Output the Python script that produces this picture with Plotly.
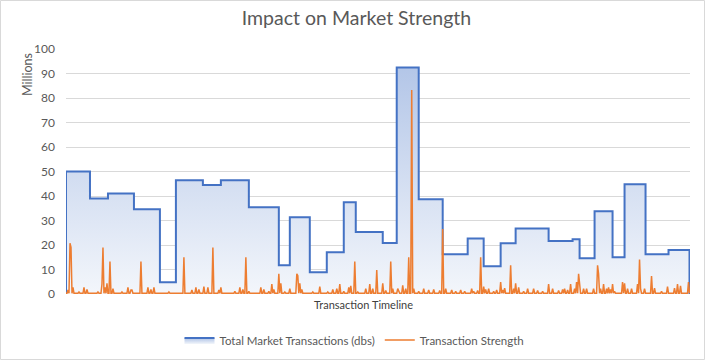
import plotly.graph_objects as go

# ---- data -------------------------------------------------------------
# Timeline is expressed as transaction index 0..624
step_x = [0, 24, 42, 68, 94, 110, 137, 155, 183, 213, 224, 244, 261, 278, 290,
          317, 331, 353, 377, 402, 418, 435, 450, 483, 507, 514, 529, 547, 559,
          580, 603, 624]
step_val = [50, 39, 41, 34.6, 4.8, 46.4, 44.5, 46.4, 35.4, 11.7, 31.3, 8.9, 17,
            37.4, 25.3, 20.8, 92.5, 38.7, 16.2, 22.7, 11.3, 20.7, 26.7, 21.6,
            22.3, 14.6, 33.8, 15, 44.8, 16.2, 18, 18]

spike_x = [2, 4, 5, 7, 13, 18, 21, 32, 36, 37, 39, 41, 44, 47, 56, 62, 65, 66,
           75, 82, 85, 88, 103, 118, 126, 130, 133, 138, 142, 147, 153, 155,
           169, 174, 177, 180, 183, 195, 198, 203, 206, 208, 213, 215, 219, 224,
           231, 232, 234, 236, 247, 254, 262, 267, 271, 274, 278, 283, 285, 289,
           292, 300, 304, 307, 311, 317, 320, 325, 327, 332, 333, 337, 340, 343,
           346, 348, 353, 358, 363, 368, 374, 377, 380, 386, 390, 395, 399, 406,
           408, 412, 415, 418, 420, 423, 428, 431, 435, 437, 439, 445, 448, 450,
           453, 458, 462, 468, 472, 477, 483, 487, 493, 497, 499, 502, 505, 509,
           511, 513, 514, 518, 521, 528, 532, 533, 535, 538, 541, 543, 545, 547,
           549, 557, 559, 562, 566, 572, 574, 575, 579, 586, 589, 596, 602, 609,
           612, 615, 623]
spike_val = [1.6, 20.7, 19, 2.7, 0.8, 2.7, 1.9, 0.8, 4, 19, 2.7, 4.4, 13.3, 2.2,
             0.8, 2.7, 1.6, 1.6, 13.3, 2.7, 1.9, 2.7, 0.8, 15, 1.6, 2.7, 1.9, 3,
             2.7, 19, 1.6, 2.7, 1.1, 2.7, 1.9, 15, 1.1, 2.7, 1.9, 1.1, 4, 1.9,
             8.2, 4.4, 0.8, 2.2, 8.2, 7.5, 4.4, 1.9, 0.8, 3, 0.8, 1.9, 2.2, 4,
             1.1, 2.7, 3.3, 13.3, 0.8, 2.2, 4, 2.2, 9.8, 4.4, 1.4, 13.3, 2.2,
             2.2, 1.4, 3.5, 2.2, 15, 83.3, 2.2, 1.1, 2.2, 1.6, 1.9, 1.4, 26.5,
             2.2, 1.6, 1.1, 1.6, 1.1, 2.2, 1.1, 1.4, 15, 3, 1.9, 2.2, 1.1, 1.6,
             4.9, 1.6, 2.4, 11.7, 2.2, 4.4, 2.7, 1.1, 2.2, 2.2, 1.4, 1.1, 4, 2.2,
             1.4, 1.9, 2.2, 1.6, 4, 2.2, 4.9, 8.2, 2.7, 2.2, 2.2, 2.2, 11.7, 8.2,
             2.2, 4, 2.2, 2.7, 1.9, 4, 1.1, 4.9, 4.4, 2.2, 2.2, 4, 14.1, 2.2, 2.2,
             7.3, 2.4, 1.1, 3, 2.4, 4, 3.3, 4.9]
baseline_val = 0.3
n_points = 625

y_ticks = list(range(0, 101, 10))

# ---- build series ----------------------------------------------------
spikes = dict(zip(spike_x, spike_val))
strength_x = list(range(n_points))
strength_y = [spikes.get(i, baseline_val) for i in strength_x]

area_x = [step_x[0]] + step_x + [step_x[-1]]
area_y = [0] + step_val + [0]

fig = go.Figure()
fig.add_trace(go.Scatter(
    x=area_x, y=area_y, mode="lines", line_shape="hv",
    line=dict(color="#4472c4", width=2),
    fill="tozeroy",
    fillgradient=dict(type="vertical", start=0, stop=100,
                      colorscale=[[0, "#f3f6fb"], [1, "#aec2e6"]]),
    name="Total Market Transactions (dbs)",
))
fig.add_trace(go.Scatter(
    x=strength_x, y=strength_y, mode="lines",
    line=dict(color="#ed7d31", width=1.5),
    name="Transaction Strength",
))

grey = "#595959"
fig.update_layout(
    width=705, height=360,
    margin=dict(l=66, r=15, t=49, b=66, autoexpand=False),
    paper_bgcolor="white", plot_bgcolor="white",
    font=dict(family="Lato", color=grey, size=12),
    title=dict(text="Impact on Market Strength", x=0.4655, xref="paper",
               xanchor="center", y=1 - 18 / 360, yanchor="middle",
               font=dict(size=19.5, color=grey, family="Lato")),
    xaxis=dict(range=[0, 624.5], showticklabels=False, showgrid=False,
               zeroline=False, showline=False, ticks="", automargin=False),
    yaxis=dict(range=[0, 100], tickvals=y_ticks, showgrid=True,
               gridcolor="#d9d9d9", gridwidth=1, zeroline=False,
               showline=False, ticks="", ticklabelstandoff=10,
               automargin=False, tickfont=dict(size=12, color=grey)),
    yaxis2=dict(range=[0, 6], overlaying="y", side="right", dtick=1,
                showgrid=False, zeroline=False, showticklabels=False,
                automargin=False,
                ticks="outside", ticklen=2, tickcolor="#cfcfcf"),
    showlegend=True,
    legend=dict(orientation="h", x=(354.5 - 66) / 624, xanchor="center",
                y=(294 - 340) / 245, yanchor="middle",
                font=dict(size=11.5, color=grey), itemwidth=30,
                bgcolor="rgba(0,0,0,0)"),
    annotations=[
        dict(text="Millions", x=(27 - 66) / 624, y=(294 - 75) / 245,
             xref="paper", yref="paper", showarrow=False, textangle=-90,
             font=dict(size=12.5, color=grey), xanchor="center",
             yanchor="middle"),
        dict(text="Transaction Timeline", x=(363 - 66) / 624,
             y=(294 - 304) / 245, xref="paper", yref="paper",
             showarrow=False, font=dict(size=11, color="#404040"),
             xanchor="center", yanchor="middle"),
    ],
    shapes=[dict(type="rect", xref="paper", yref="paper",
                 x0=(0.5 - 66) / 624, x1=(704.5 - 66) / 624,
                 y0=(294 - 359.5) / 245, y1=(294 - 0.5) / 245,
                 line=dict(color="#d9d9d9", width=1), layer="below")],
)

fig.write_html("out.html", config={"displayModeBar": False},
               post_script="document.body.style.margin='0px';"
                           "document.body.style.overflow='hidden';")
